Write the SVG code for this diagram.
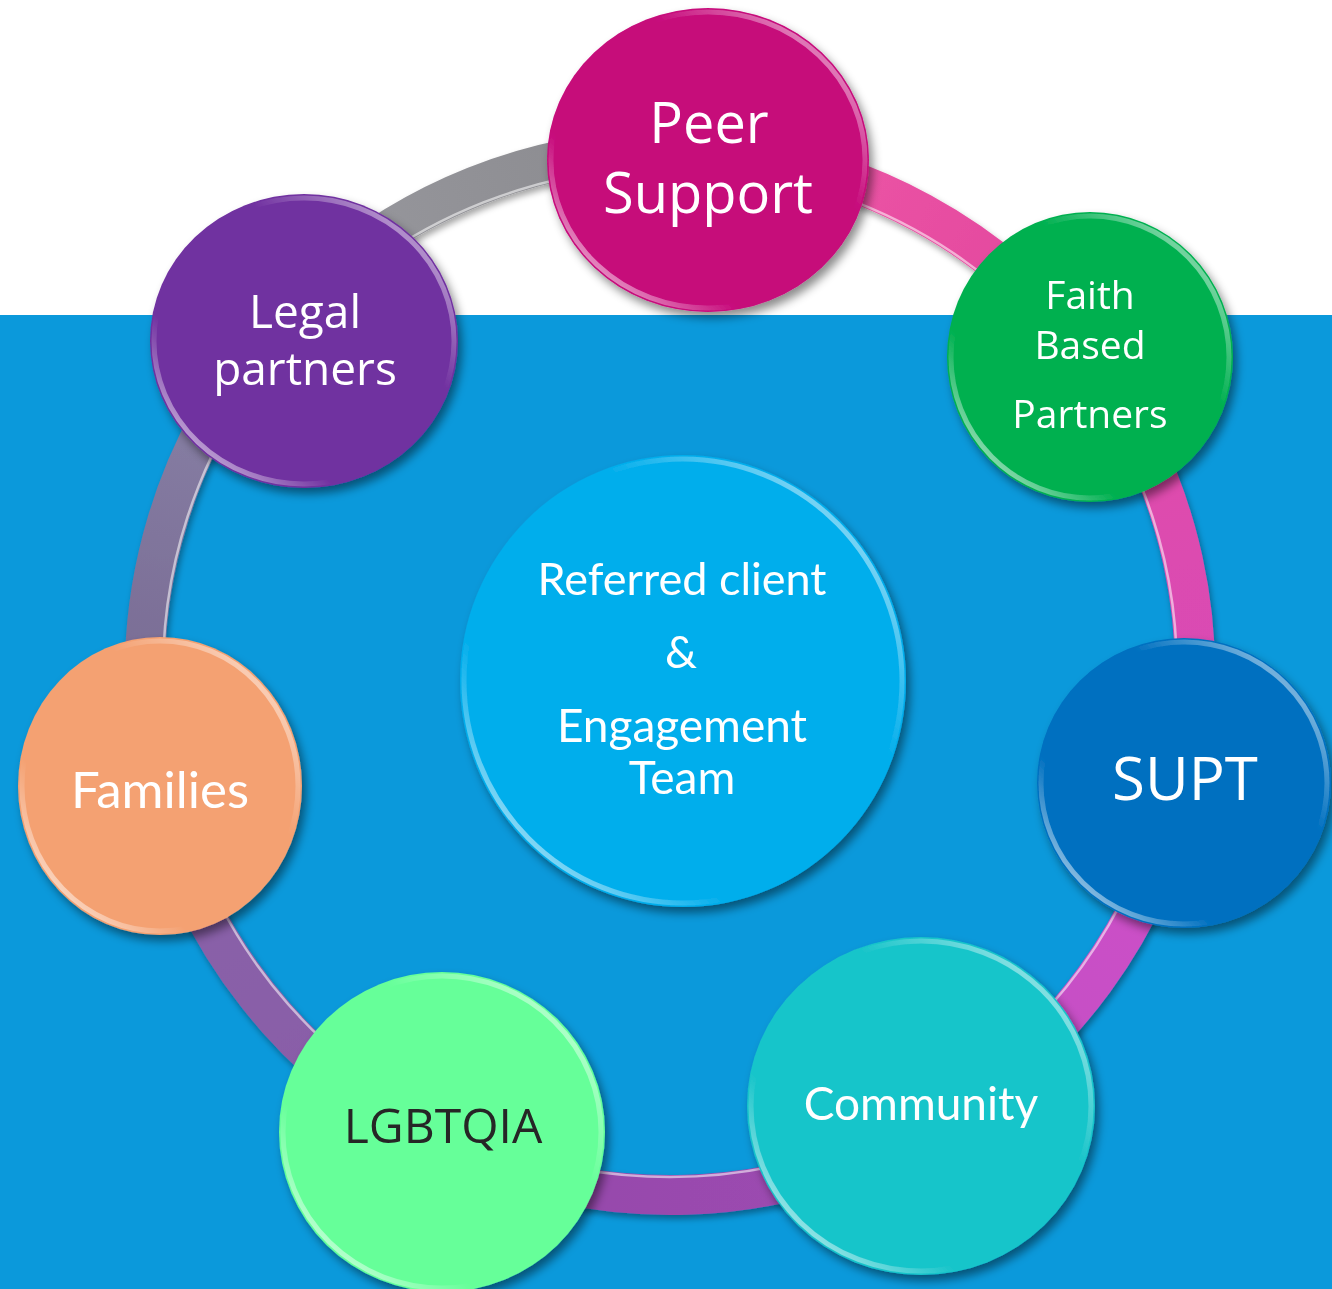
<svg xmlns="http://www.w3.org/2000/svg" width="1332" height="1289" viewBox="0 0 1332 1289">
<defs>
<filter id="sh" x="-20%" y="-20%" width="140%" height="140%">
<feDropShadow dx="4" dy="6" stdDeviation="5" flood-color="#000" flood-opacity="0.45"/>
</filter>
<filter id="rsh" x="-10%" y="-10%" width="120%" height="120%">
<feDropShadow dx="2" dy="4" stdDeviation="3" flood-color="#000" flood-opacity="0.35"/>
</filter>
<linearGradient id="rim" x1="0" y1="1" x2="1" y2="0">
<stop offset="0" stop-color="#fff" stop-opacity="0.95"/>
<stop offset="0.3" stop-color="#fff" stop-opacity="0"/>
<stop offset="0.65" stop-color="#fff" stop-opacity="0"/>
<stop offset="0.85" stop-color="#fff" stop-opacity="0.45"/>
<stop offset="1" stop-color="#fff" stop-opacity="0.2"/>
</linearGradient>
<linearGradient id="g1" gradientUnits="userSpaceOnUse" x1="280" y1="321" x2="708" y2="150"><stop offset="0" stop-color="#9a9aa0"/><stop offset="1" stop-color="#88888c"/></linearGradient>
<linearGradient id="g2" gradientUnits="userSpaceOnUse" x1="708" y1="150" x2="1090" y2="358"><stop offset="0" stop-color="#f05aa8"/><stop offset="1" stop-color="#e0449c"/></linearGradient>
<linearGradient id="g3" gradientUnits="userSpaceOnUse" x1="1090" y1="358" x2="1183" y2="782"><stop offset="0" stop-color="#e24ca8"/><stop offset="1" stop-color="#d64ab8"/></linearGradient>
<linearGradient id="g4" gradientUnits="userSpaceOnUse" x1="1183" y1="782" x2="932" y2="1125"><stop offset="0" stop-color="#d050c8"/><stop offset="1" stop-color="#c050c4"/></linearGradient>
<linearGradient id="g5" gradientUnits="userSpaceOnUse" x1="932" y1="1125" x2="437" y2="1140"><stop offset="0" stop-color="#a04cb4"/><stop offset="1" stop-color="#9248a8"/></linearGradient>
<linearGradient id="g6" gradientUnits="userSpaceOnUse" x1="437" y1="1140" x2="158" y2="786"><stop offset="0" stop-color="#8a5aa8"/><stop offset="1" stop-color="#8864a8"/></linearGradient>
<linearGradient id="g7" gradientUnits="userSpaceOnUse" x1="158" y1="786" x2="280" y2="321"><stop offset="0" stop-color="#766690"/><stop offset="1" stop-color="#8a84a8"/></linearGradient>
</defs>
<style>
.seg{fill:none;stroke-width:40}
.hl{fill:none;stroke:#fff;stroke-opacity:0.55;stroke-width:2.5}
.rim{fill:none;stroke:url(#rim);stroke-width:5}
.t{fill:#fff;text-anchor:middle;font-family:"Open Sans","Noto Sans","DejaVu Sans",sans-serif}
.c{fill:#fff;text-anchor:middle;font-family:Lato,"Open Sans",sans-serif}
</style>
<rect x="0" y="0" width="1332" height="1289" fill="#ffffff"/>
<rect x="0" y="315" width="1332" height="974" fill="#0b99db"/>

<g id="connectors" filter="url(#rsh)">
<path class="seg" stroke="url(#g1)" d="M280.5 321.4 A525 523 0 0 1 708.4 150.4"/>
<path class="seg" stroke="url(#g2)" d="M708.4 150.4 A525 523 0 0 1 1089.8 358"/>
<path class="seg" stroke="url(#g3)" d="M1089.8 358 A525 523 0 0 1 1183.1 782.5"/>
<path class="seg" stroke="url(#g4)" d="M1183.1 782.5 A525 523 0 0 1 932.5 1124.9"/>
<path class="seg" stroke="url(#g5)" d="M932.5 1124.9 A525 523 0 0 1 436.6 1140.5"/>
<path class="seg" stroke="url(#g6)" d="M436.6 1140.5 A525 523 0 0 1 157.7 786.1"/>
<path class="seg" stroke="url(#g7)" d="M157.7 786.1 A525 523 0 0 1 280.5 321.4"/>
<ellipse class="hl" cx="670" cy="672" rx="507" ry="505"/>
</g>

<g id="center" filter="url(#sh)">
<ellipse cx="683" cy="681" rx="223" ry="226" fill="#02aeec"/>
<ellipse class="rim" cx="683" cy="681" rx="219" ry="222"/>
<text class="c" x="682" y="595" font-size="45">Referred client</text>
<text class="c" x="681" y="668" font-size="45">&amp;</text>
<text class="c" font-size="46"><tspan x="682" y="742">Engagement</tspan><tspan x="682" y="794">Team</tspan></text>
</g>

<g id="peer" filter="url(#sh)">
<ellipse cx="708" cy="160" rx="161" ry="152" fill="#c6087a"/>
<ellipse class="rim" cx="708" cy="160" rx="157" ry="148"/>
<text class="t" font-size="56"><tspan x="709" y="143">Peer</tspan><tspan x="708" y="213">Support</tspan></text>
</g>

<g id="faith" filter="url(#sh)">
<ellipse cx="1090" cy="357" rx="143" ry="145" fill="#00b050"/>
<ellipse class="rim" cx="1090" cy="357" rx="139" ry="141"/>
<text class="t" font-size="39"><tspan x="1090" y="309">Faith</tspan><tspan x="1090" y="359">Based</tspan></text>
<text class="t" x="1090" y="428" font-size="39">Partners</text>
</g>

<g id="supt" filter="url(#sh)">
<ellipse cx="1184" cy="783" rx="147" ry="145" fill="#0070c0"/>
<ellipse class="rim" cx="1184" cy="783" rx="143" ry="141"/>
<text class="t" x="1185" y="800" font-size="60">SUPT</text>
</g>

<g id="community" filter="url(#sh)">
<ellipse cx="921" cy="1106" rx="174" ry="169" fill="#19c5ca"/>
<ellipse class="rim" cx="921" cy="1106" rx="170" ry="165"/>
<text class="c" x="921" y="1120" font-size="46">Community</text>
</g>

<g id="lgbtqia" filter="url(#sh)">
<ellipse cx="442" cy="1132" rx="163" ry="160" fill="#66ff99"/>
<ellipse class="rim" cx="442" cy="1132" rx="159" ry="156"/>
<text class="t" x="443" y="1143" font-size="48" style="fill:#262626">LGBTQIA</text>
</g>

<g id="families" filter="url(#sh)">
<ellipse cx="160" cy="786" rx="142" ry="149" fill="#f4a172"/>
<ellipse class="rim" cx="160" cy="786" rx="138" ry="145"/>
<text class="c" x="160" y="808" font-size="51">Families</text>
</g>

<g id="legal" filter="url(#sh)">
<ellipse cx="304" cy="341" rx="154" ry="147" fill="#7030a0"/>
<ellipse class="rim" cx="304" cy="341" rx="150" ry="143"/>
<text class="t" font-size="46"><tspan x="305" y="328">Legal</tspan><tspan x="305" y="385">partners</tspan></text>
</g>
</svg>
